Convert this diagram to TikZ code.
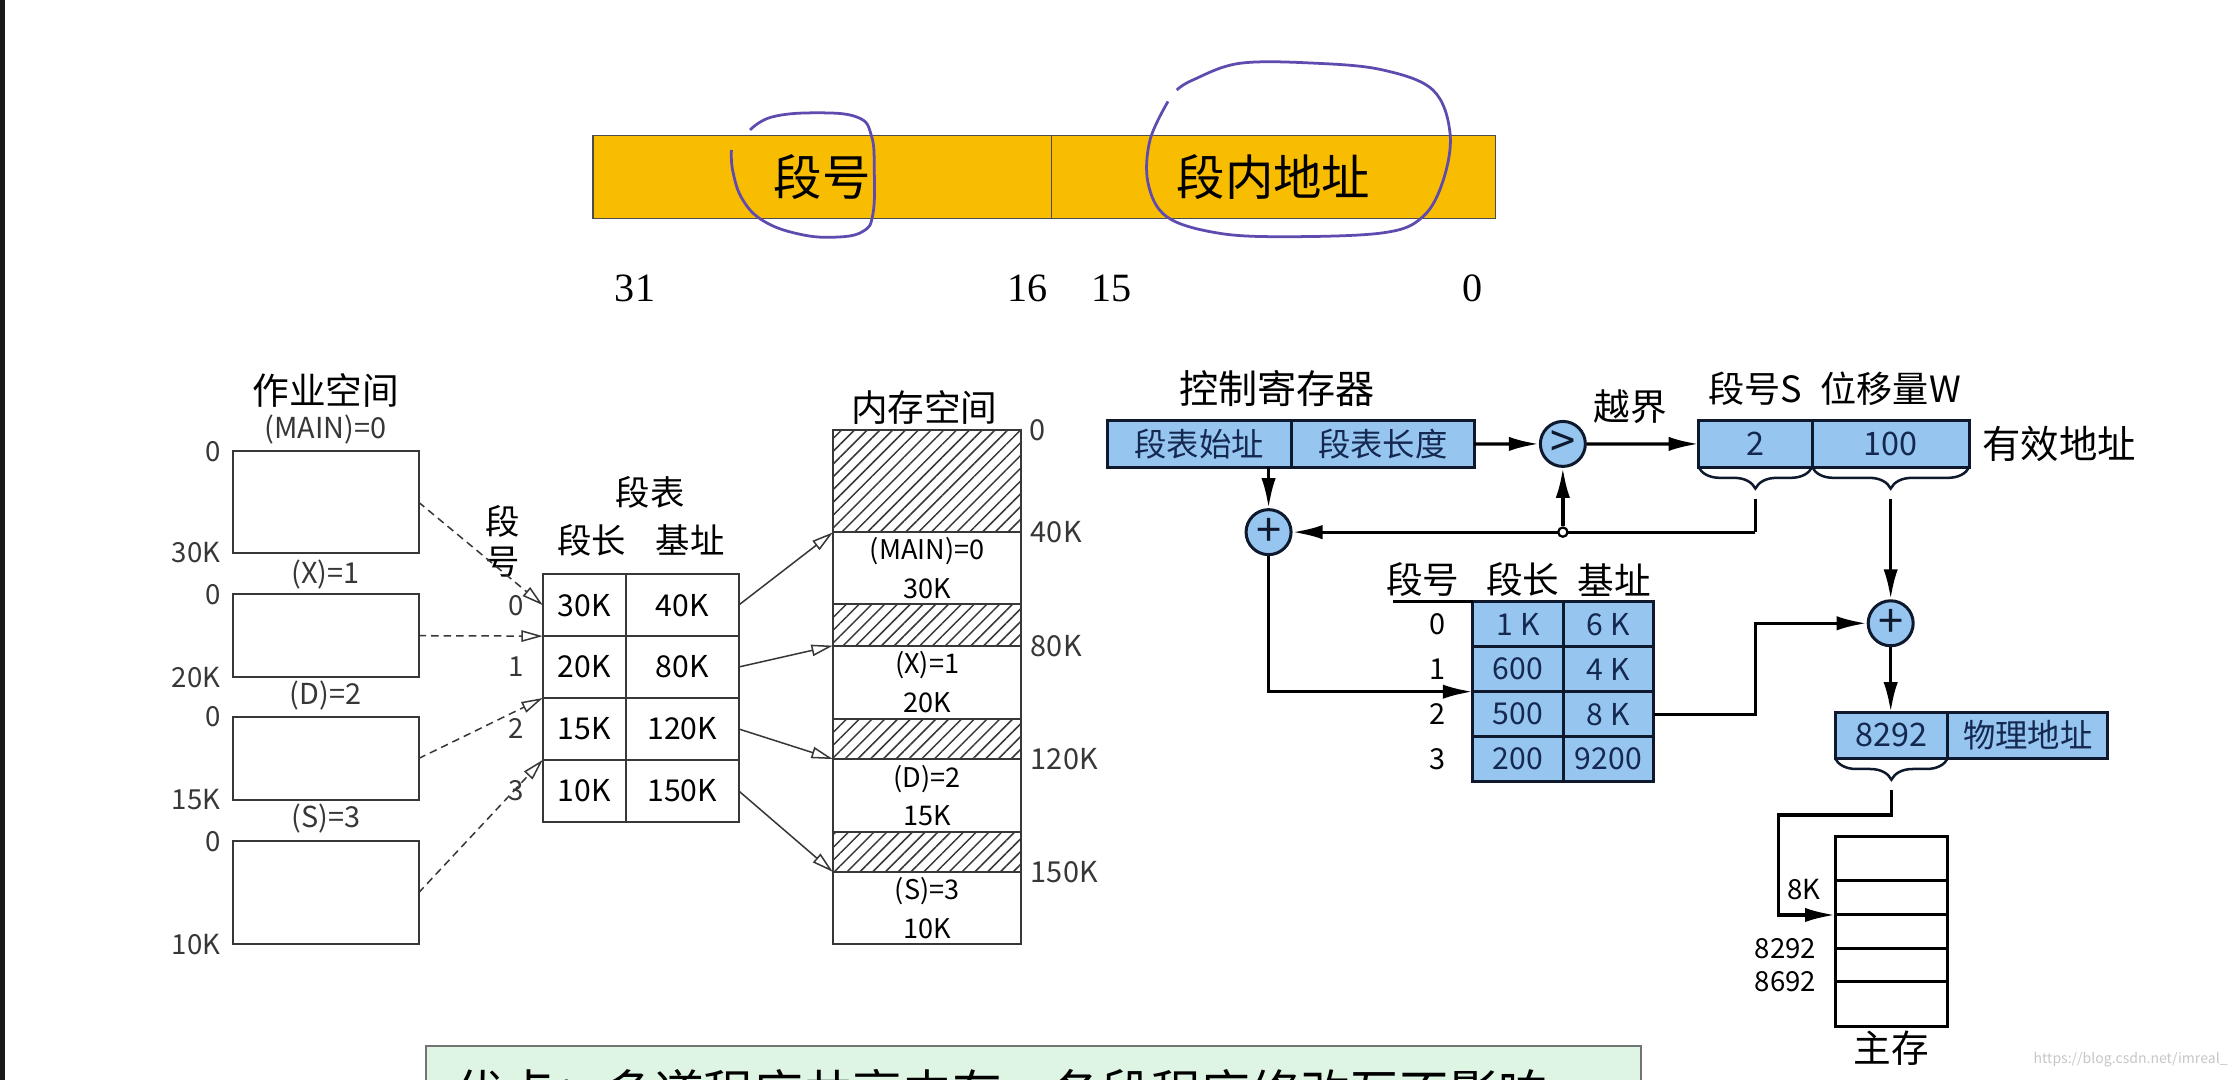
\documentclass[tikz,border=0pt]{standalone}
\usepackage{fontspec}
\setmainfont{Noto Sans CJK SC}
\newfontfamily\bitfont{Liberation Serif}
\usetikzlibrary{positioning, arrows.meta, patterns.meta, decorations.pathreplacing}
\tikzset{every picture/.style={line width=0.8pt}}
\definecolor{field-orange}{RGB}{248,188,0}
\definecolor{pen-purple}{RGB}{95,75,175}
\definecolor{reg-blue}{RGB}{150,198,240}
\definecolor{reg-navy}{RGB}{15,25,45}
\definecolor{reg-text}{RGB}{20,40,80}
\definecolor{job-gray}{RGB}{55,55,55}
\definecolor{note-green}{RGB}{222,245,228}
\newcommand{\fsz}[2]{\fontsize{#1}{#2}\selectfont}

\begin{document}
\begin{tikzpicture}
    [x=0.02cm, y=-0.02cm,
    field/.style = {rectangle, draw=black!70, line width=0.6pt, fill=field-orange,
            inner sep=0pt, outer sep=0pt, minimum height=1.16cm, font=\fsz{19.3}{20}},
    job/.style = {rectangle, draw=job-gray, minimum width=2.6cm, inner sep=0pt, outer sep=0pt},
    cell/.style = {rectangle, draw=job-gray, minimum height=0.866cm, inner sep=0pt, outer sep=0pt,
            font=\fsz{12}{12}},
    mem/.style = {rectangle, draw=job-gray, minimum width=2.64cm, inner sep=0pt, outer sep=0pt,
            align=center, font=\fsz{10.8}{15.4}},
    hatch/.style = {mem, pattern={Lines[angle=45, distance=3.6pt, line width=0.6pt]}, pattern color=job-gray},
    lbl/.style = {inner sep=0pt, text=job-gray, font=\fsz{11}{11}},
    ttl/.style = {inner sep=0pt, font=\fsz{14.6}{16}},
    dashlink/.style = {job-gray, line width=0.6pt, dash pattern=on 3pt off 2pt,
            -{Triangle[open, length=0.3cm, width=0.16cm]}},
    memlink/.style = {job-gray, line width=0.6pt, -{Triangle[open, length=0.3cm, width=0.16cm]}},
    reg/.style = {rectangle, draw=reg-navy, line width=1.2pt, fill=reg-blue, text=reg-text,
            inner sep=0pt, outer sep=0pt, minimum height=0.65cm, font=\fsz{12.9}{13}},
    rcell/.style = {reg, minimum width=1.265cm, minimum height=0.63cm, font=\fsz{12}{12}},
    op/.style = {circle, draw=reg-navy, line width=1.2pt, fill=reg-blue, text=reg-navy,
            minimum size=0.63cm, inner sep=0pt, font=\fsz{18}{18}},
    mcell/.style = {rectangle, draw=black, line width=1.2pt, minimum width=1.58cm,
            inner sep=0pt, outer sep=0pt},
    flow/.style = {line width=1.3pt, -{Latex[length=0.42cm, width=0.2cm]}},
    wire/.style = {line width=1.3pt},
    curly/.style = {reg-navy, line width=1pt, decorate, decoration={brace, mirror, amplitude=0.3cm}},
    ]

    \useasboundingbox (0,0) rectangle (1568,756);
    \clip (0,0) rectangle (1568,756);
    \fill[white] (0,0) rectangle (1568,756);
    \fill[black!90] (0,0) rectangle (3.5,756);

    % address format
    \node[field, minimum width=6.42cm, anchor=north west] (segno) at (415,95) {段号};
    \node[field, minimum width=6.22cm, right=0pt of segno] (segoff) {段内地址};
    \node[inner sep=0pt, font=\bitfont\fsz{16}{16}] (b31) at (444.5,202) {31};
    \node[inner sep=0pt, font=\bitfont\fsz{16}{16}] (b16) at (719,202) {16};
    \node[inner sep=0pt, font=\bitfont\fsz{16}{16}] (b15) at (778,202) {15};
    \node[inner sep=0pt, font=\bitfont\fsz{16}{16}] (b0) at (1031,202) {0};
    \draw[pen-purple, line width=1.1pt] plot[smooth, tension=0.7] coordinates {(525,91) (540,82) (570,79)
        (600,82) (610,95) (612,120) (611,150) (604,162) (585,166) (560,164) (535,155) (520,140) (513,120) (512,105)};
    \draw[pen-purple, line width=1.1pt] plot[smooth, tension=0.6] coordinates {(817.6,71) (805,98) (803.6,128)
        (816.7,151.7) (851.7,163) (898,165.7) (968,163) (996,151.7) (1010.3,126) (1015,93) (1003,63)
        (968,49) (921.7,44.3) (868,44.3) (835,56) (823.7,63)};

    % job space
    \node[job, minimum height=1.42cm, anchor=north west] (job0) at (163,316) {};
    \node[job, minimum height=1.16cm, anchor=north west] (job1) at (163,416) {};
    \node[job, minimum height=1.16cm, anchor=north west] (job2) at (163,502) {};
    \node[job, minimum height=1.44cm, anchor=north west] (job3) at (163,589) {};
    \node[ttl] (jobttl) at ([yshift=0.86cm]job0.north) {作业空间};
    \node[lbl, font=\fsz{11.5}{11.5}] (job0-name) at ([yshift=0.3cm]job0.north) {(MAIN)=0};
    \node[lbl, font=\fsz{11.5}{11.5}] (job1-name) at ([yshift=0.28cm]job1.north) {(X)=1};
    \node[lbl, font=\fsz{11.5}{11.5}] (job2-name) at ([yshift=0.3cm]job2.north) {(D)=2};
    \node[lbl, font=\fsz{11.5}{11.5}] (job3-name) at ([yshift=0.32cm]job3.north) {(S)=3};
    \node[lbl, anchor=east] (job0-top) at ([xshift=-0.16cm]job0.north west) {0};
    \node[lbl, anchor=east] (job0-end) at ([xshift=-0.16cm]job0.south west) {30K};
    \node[lbl, anchor=east] (job1-top) at ([xshift=-0.16cm]job1.north west) {0};
    \node[lbl, anchor=east] (job1-end) at ([xshift=-0.16cm]job1.south west) {20K};
    \node[lbl, anchor=east] (job2-top) at ([xshift=-0.16cm]job2.north west) {0};
    \node[lbl, anchor=east] (job2-end) at ([xshift=-0.16cm]job2.south west) {15K};
    \node[lbl, anchor=east] (job3-top) at ([xshift=-0.16cm]job3.north west) {0};
    \node[lbl, anchor=east] (job3-end) at ([xshift=-0.16cm]job3.south west) {10K};

    % segment table
    \node[cell, minimum width=1.16cm, anchor=north west] (st0l) at (380,402) {30K};
    \node[cell, minimum width=1.58cm, right=0pt of st0l] (st0r) {40K};
    \node[cell, minimum width=1.16cm, below=0pt of st0l] (st1l) {20K};
    \node[cell, minimum width=1.58cm, right=0pt of st1l] (st1r) {80K};
    \node[cell, minimum width=1.16cm, below=0pt of st1l] (st2l) {15K};
    \node[cell, minimum width=1.58cm, right=0pt of st2l] (st2r) {120K};
    \node[cell, minimum width=1.16cm, below=0pt of st2l] (st3l) {10K};
    \node[cell, minimum width=1.58cm, right=0pt of st3l] (st3r) {150K};
    \node[ttl, font=\fsz{13.7}{15}] (st-ttl) at (455,345) {段表};
    \node[ttl, font=\fsz{13.7}{15}] (st-len) at (414,378) {段长};
    \node[ttl, font=\fsz{13.7}{15}] (st-base) at (483,378) {基址};
    \node[ttl, font=\fsz{13.7}{16}, align=center] (st-no) at (352,379) {段\\号};
    \node[lbl] (st0n) at ([xshift=-0.38cm]st0l.west) {0};
    \node[lbl] (st1n) at ([xshift=-0.38cm]st1l.west) {1};
    \node[lbl] (st2n) at ([xshift=-0.38cm]st2l.west) {2};
    \node[lbl] (st3n) at ([xshift=-0.38cm]st3l.west) {3};

    % memory space
    \node[hatch, minimum height=1.434cm, anchor=north west] (mh0) at (583,301) {};
    \node[mem, minimum height=1.006cm, below=0pt of mh0] (ms0) {(MAIN)=0\\30K};
    \node[hatch, minimum height=0.58cm, below=0pt of ms0] (mh1) {};
    \node[mem, minimum height=1.02cm, below=0pt of mh1] (ms1) {(X)=1\\20K};
    \node[hatch, minimum height=0.568cm, below=0pt of ms1] (mh2) {};
    \node[mem, minimum height=1.02cm, below=0pt of mh2] (ms2) {(D)=2\\15K};
    \node[hatch, minimum height=0.56cm, below=0pt of ms2] (mh3) {};
    \node[mem, minimum height=1.012cm, below=0pt of mh3] (ms3) {(S)=3\\10K};
    \node[ttl] (memttl) at (647,285) {内存空间};
    \node[lbl, font=\fsz{11.5}{11.5}, anchor=west] (mem0) at ([xshift=0.1cm]mh0.north east) {0};
    \node[lbl, font=\fsz{11.5}{11.5}, anchor=west] (mem40) at ([xshift=0.12cm]ms0.north east) {40K};
    \node[lbl, font=\fsz{11.5}{11.5}, anchor=west] (mem80) at ([xshift=0.12cm]ms1.north east) {80K};
    \node[lbl, font=\fsz{11.5}{11.5}, anchor=west] (mem120) at ([xshift=0.12cm]ms2.north east) {120K};
    \node[lbl, font=\fsz{11.5}{11.5}, anchor=west] (mem150) at ([xshift=0.12cm]ms3.north east) {150K};

    \draw[dashlink] (job0.east) -- (st0l.west);
    \draw[dashlink] (job1.east) -- (st0l.south west);
    \draw[dashlink] (job2.east) -- (st1l.south west);
    \draw[dashlink] (job3.east) -- (st2l.south west);
    \draw[memlink] (st0r.east) -- (ms0.north west);
    \draw[memlink] (st1r.east) -- (ms1.north west);
    \draw[memlink] (st2r.east) -- (ms2.north west);
    \draw[memlink] (st3r.east) -- (ms3.north west);

    % address translation
    \node[reg, minimum width=2.58cm, anchor=north west] (crbase) at (775,294.5) {段表始址};
    \node[reg, minimum width=2.56cm, right=0pt of crbase] (crlen) {段表长度};
    \node[ttl, font=\fsz{15.6}{16}] (crttl) at (894,272) {控制寄存器};
    \node[op] (cmp) at (1094,310.75) {>};
    \node[ttl] (over) at (1141,285) {越界};
    \node[reg, minimum width=1.59cm, anchor=north west] (sreg) at (1189,294.5) {2};
    \node[reg, minimum width=2.2cm, right=0pt of sreg] (wreg) {100};
    \node[ttl, font=\fsz{14.4}{15}] (sreg-ttl) at ([yshift=0.45cm]sreg.north) {段号S};
    \node[ttl, font=\fsz{14.4}{15}] (wreg-ttl) at ([yshift=0.45cm]wreg.north) {位移量W};
    \node[ttl, font=\fsz{15.3}{16}, right=0.17cm of wreg] (eff) {有效地址};
    \node[op] (add1) at (888,372.5) {+};

    \node[rcell, anchor=north west] (rt0a) at (1031,421.2) {1 K};
    \node[rcell, right=0pt of rt0a] (rt0b) {6 K};
    \node[rcell, below=0pt of rt0a] (rt1a) {600};
    \node[rcell, right=0pt of rt1a] (rt1b) {4 K};
    \node[rcell, below=0pt of rt1a] (rt2a) {500};
    \node[rcell, right=0pt of rt2a] (rt2b) {8 K};
    \node[rcell, below=0pt of rt2a] (rt3a) {200};
    \node[rcell, right=0pt of rt3a] (rt3b) {9200};
    \node[ttl] (rt-no) at (996,406) {段号};
    \node[ttl] (rt-len) at (1066,406) {段长};
    \node[ttl] (rt-base) at (1130,406) {基址};
    \node[lbl, text=black, font=\fsz{11.5}{12}] (rt0n) at ([xshift=-0.5cm]rt0a.west) {0};
    \node[lbl, text=black, font=\fsz{11.5}{12}] (rt1n) at ([xshift=-0.5cm]rt1a.west) {1};
    \node[lbl, text=black, font=\fsz{11.5}{12}] (rt2n) at ([xshift=-0.5cm]rt2a.west) {2};
    \node[lbl, text=black, font=\fsz{11.5}{12}] (rt3n) at ([xshift=-0.5cm]rt3a.west) {3};
    \coordinate (rt-rule) at (975,421.2);
    \draw[line width=1.2pt] (rt-rule) -- (rt0a.north west);

    \coordinate (stip) at ([yshift=-0.44cm]sreg.south);
    \coordinate (wtip) at ([yshift=-0.44cm]wreg.south);
    \node[op] (add2) at (wtip |- 0,436.3) {+};
    \node[reg, minimum width=1.58cm, minimum height=0.646cm, anchor=north west] (pnum) at (1284.5,498.5) {8292};
    \node[reg, minimum width=2.24cm, minimum height=0.646cm, right=0pt of pnum] (plabel) {物理地址};
    \coordinate (ptip) at ([yshift=-0.44cm]pnum.south);
    \coordinate (pleft) at (1245,570.5);

    \node[mcell, minimum height=0.62cm, anchor=north west] (mm0) at (1284.5,585.7) {};
    \node[mcell, minimum height=0.476cm, below=0pt of mm0] (mm1) {};
    \node[mcell, minimum height=0.466cm, below=0pt of mm1] (mm2) {};
    \node[mcell, minimum height=0.468cm, below=0pt of mm2] (mm3) {};
    \node[mcell, minimum height=0.63cm, below=0pt of mm3] (mm4) {};
    \node[lbl, text=black, anchor=base east] (mm-8k) at ([xshift=-0.19cm, yshift=0.21cm]mm2.north west) {8K};
    \node[lbl, text=black, anchor=east] (mm-8292) at ([xshift=-0.25cm]mm3.north west) {8292};
    \node[lbl, text=black, anchor=east] (mm-8692) at ([xshift=-0.25cm]mm4.north west) {8692};
    \node[ttl, font=\fsz{15}{16}] (mainmem) at (1324,734) {主存};

    \draw[curly] (sreg.south west) -- (sreg.south east);
    \draw[curly] (wreg.south west) -- (wreg.south east);
    \draw[curly] (pnum.south west) -- (pnum.south east);

    \draw[flow] (crlen) -- (cmp);
    \draw[flow] (cmp) -- (sreg);
    \draw[flow] (add1 |- crbase.south) -- (add1);
    \draw[wire] (stip) -- (stip |- add1);
    \draw[flow] (stip |- add1) -- (add1);
    \node[circle, draw, fill=white, line width=0.9pt, minimum size=0.13cm, inner sep=0pt] (jn) at (cmp |- add1) {};
    \draw[flow] (jn) -- (cmp);
    \draw[flow] (add1) |- (rt1a.south west);
    \draw[flow] (rt2b.east) -| (stip |- add2) -- (add2);
    \draw[flow] (wtip) -- (add2);
    \draw[flow] (add2) -- (add2 |- pnum.north);
    \draw[flow] (ptip) |- (pleft) |- (mm2.north west);

    % note at the bottom
    \node[rectangle, draw=black!55, fill=note-green, minimum width=17.01cm, minimum height=1.5cm,
        anchor=north west] (note) at (297.4,731.5) {};
    \node[inner sep=0pt, anchor=base west, font=\fsz{19.8}{20}] (note-text) at (318,778)
        {优点：多道程序共享内存，各段程序修改互不影响};
    \node[inner sep=0pt, anchor=east, text=black!22, font=\fsz{5.6}{6}] (mark) at (1560,742)
        {https://blog.csdn.net/imreal\_};
\end{tikzpicture}
\end{document}
